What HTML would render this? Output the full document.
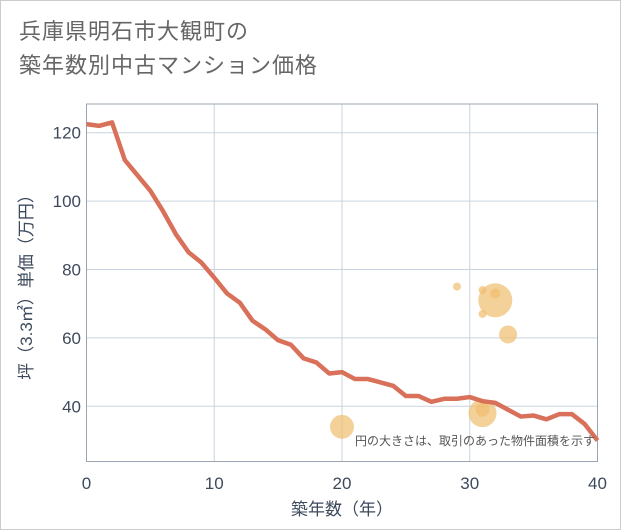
<!DOCTYPE html>
<html><head><meta charset="utf-8"><style>
body{margin:0;background:#fff;font-family:"Liberation Sans","Noto Sans CJK JP",sans-serif}
#wrap{position:relative;width:619px;height:528px;border:1px solid #ccc;background:#fff}
#title{position:absolute;left:18px;top:14px;font-size:22px;line-height:34px;color:#666;letter-spacing:1px}
svg{position:absolute;left:0;top:0}
</style></head><body>
<div id="wrap">
<div id="title">兵庫県明石市大観町の<br>築年数別中古マンション価格</div>
<svg id="chart" width="621" height="530"></svg>
</div>
<script>
const years=[0,1,2,3,4,5,6,7,8,9,10,11,12,13,14,15,16,17,18,19,20,21,22,23,24,25,26,27,28,29,30,31,32,33,34,35,36,37,38,39,40];
const prices=[122.5,122,123,112,107.5,103,97,90.3,85,82,77.6,73,70.3,65,62.5,59.3,58,54,52.8,49.6,50,48,48,47,46,43,43,41.3,42.2,42.2,42.7,41.5,41,39,37,37.3,36.2,37.7,37.7,34.8,30];
const bubbleX=[20,29,31,31,32,32,33,31,31];
const bubbleY=[34,75,74,67,71,73,61,38,39];
const bubbleSize=[12,4,4,4,17,5,9,14,7];
const xTicks=[0,10,20,30,40];
const yTicks=[40,60,80,100,120];
const L=85.5,R=596.5,T=103,B=460.5;
const sx=v=>L+(R-L)*v/40;
const sy=v=>405.3-(v-40)*(405.3-131.7)/80;
const s=document.getElementById('chart');
const NS='http://www.w3.org/2000/svg';
function mk(t,a,p){const e=document.createElementNS(NS,t);for(const k in a)e.setAttribute(k,a[k]);(p||s).appendChild(e);return e;}
xTicks.forEach(v=>{const g=mk('line',{x1:sx(v),x2:sx(v),y1:T,y2:B,stroke:'#c8d4e0','stroke-width':1});


const t=mk('text',{x:sx(v),y:488,'text-anchor':'middle','font-size':17,fill:'#3d4a5c'});t.textContent=v;

});
yTicks.forEach(v=>{const g=mk('line',{x1:L,x2:R,y1:sy(v),y2:sy(v),stroke:'#c8d4e0','stroke-width':1});


const t=mk('text',{x:80,y:sy(v)+6,'text-anchor':'end','font-size':17,fill:'#3d4a5c'});t.textContent=v;

});
const fr=mk('rect',{x:L,y:T,width:R-L,height:B-T,fill:'none',stroke:'#9aa5b1','stroke-width':1});


bubbleX.forEach((v,i)=>{const c=mk('circle',{cx:sx(v),cy:sy(bubbleY[i]),r:bubbleSize[i],fill:'rgba(240,190,110,0.7)'});

});
const pl=mk('polyline',{points:years.map((y,i)=>sx(y)+','+sy(prices[i])).join(' '),fill:'none',stroke:'#d8705a','stroke-width':4.5,'stroke-linejoin':'round'});


const n=mk('text',{x:594,y:444,'text-anchor':'end','font-size':12,fill:'#555'});n.textContent='円の大きさは、取引のあった物件面積を示す';


const xt=mk('text',{x:341,y:514,'text-anchor':'middle','font-size':17,fill:'#3d4a5c'});xt.textContent='築年数（年）';


const yt=mk('text',{x:0,y:0,'text-anchor':'middle','font-size':17,fill:'#3d4a5c',transform:'translate(31,282) rotate(-90)'});yt.textContent='坪（3.3㎡）単価（万円）';


</script>
</body></html>
